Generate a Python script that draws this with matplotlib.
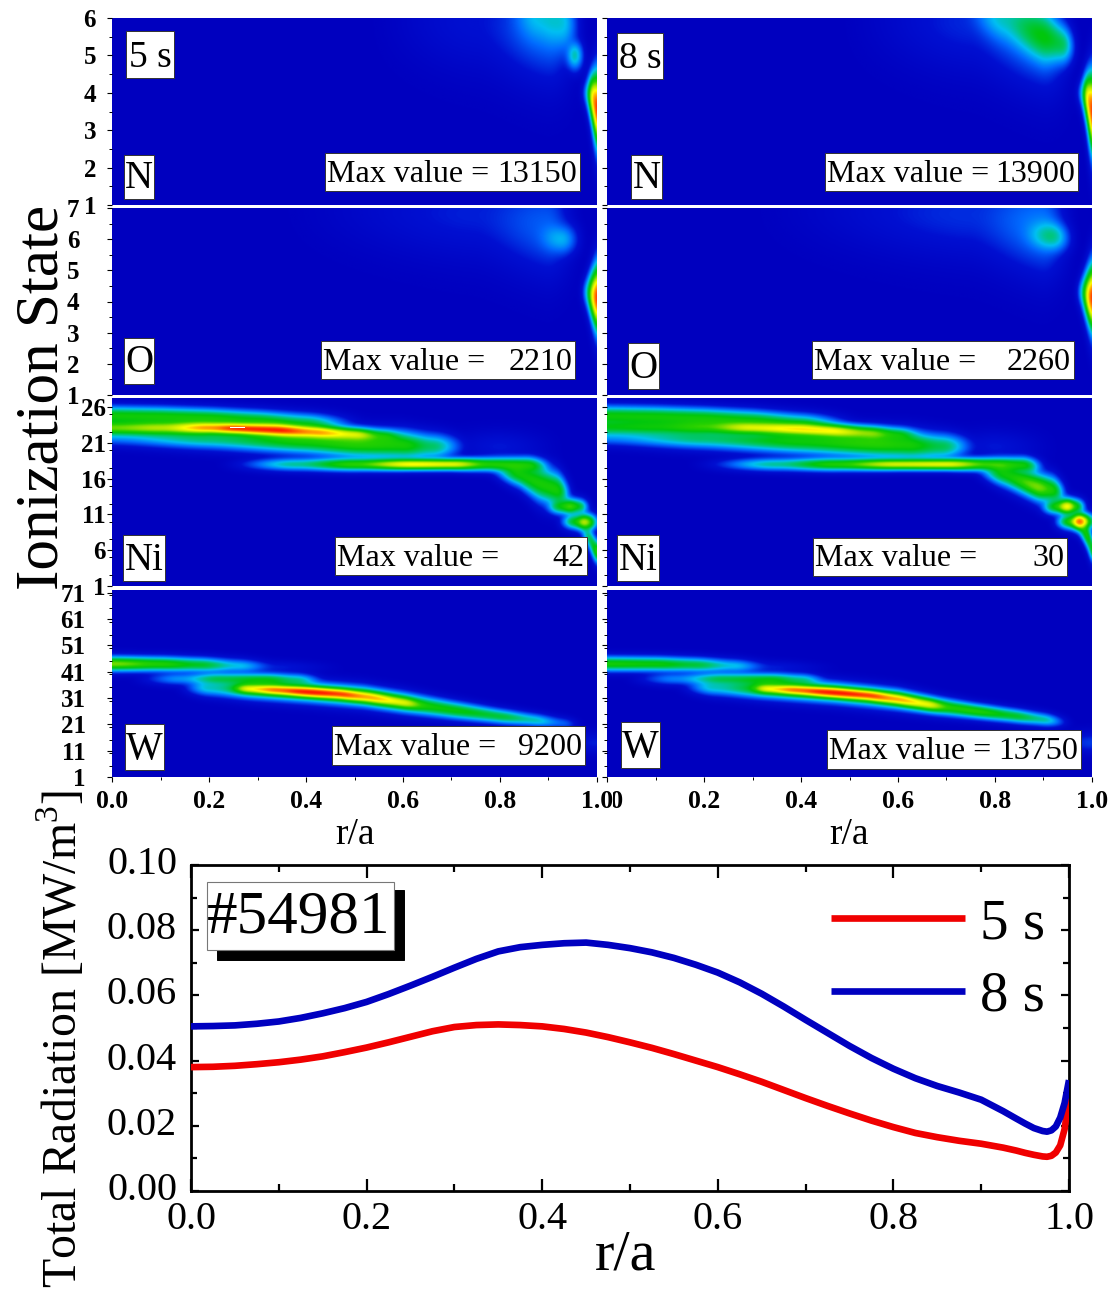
import numpy as np
import matplotlib
matplotlib.use("Agg")
import matplotlib.pyplot as plt
from matplotlib.colors import LinearSegmentedColormap
from matplotlib.patches import Rectangle
from matplotlib.ticker import MultipleLocator, FixedLocator
from matplotlib.transforms import ScaledTranslation

plt.rcParams['font.family'] = ['Liberation Serif', 'DejaVu Serif']
plt.rcParams['mathtext.fontset'] = 'custom'
plt.rcParams['mathtext.rm'] = 'Liberation Serif'

W_PX, H_PX = 1115, 1292

# ---- emissivity ridges: (r knots, state centre, state width, level 0..1)
N_5 = [
    ([.965,.98,.99,1.0], [4.0,4.0,3.9,3.5], [.15,.3,.5,.8], [0,.3,.88,1.0]),
    ([.925,.955,.985], [5,5,5], [.3,.32,.3], [0,.42,0]),
    ([.78,.88,.93,.985], [6.2,6.1,5.9,5.7], [.6,.7,.7,.5], [0,.32,.35,0]),
    ([.50,.75,.9,.98], [6,5.9,5.7,5.4], [.8,1.0,1.1,1.0], [0,.12,.24,0]),
]
N_8 = [
    ([.965,.98,.99,1.0], [4.0,4.0,3.9,3.4], [.15,.3,.5,.85], [0,.3,.88,1.0]),
    ([.70,.82,.90,.94,.98], [6.3,6.0,5.5,5.3,5.2], [.4,.6,.6,.45,.3], [0,.36,.5,.46,0]),
    ([.45,.75,.9,.98], [6,5.9,5.6,5.2], [.8,1.0,1.1,1.0], [0,.15,.28,0]),
]
O_5 = [
    ([.965,.98,.99,1.0], [4.3,4.3,4.2,4.1], [.2,.4,.6,.85], [0,.35,.78,1.0]),
    ([.84,.93,.985], [6.1,6.0,6.0], [.45,.42,.35], [0,.32,0]),
    ([.30,.75,.9,.98], [7,6.8,6.4,6.2], [.8,1.1,1.2,1.0], [0,.14,.22,0]),
]
O_8 = [
    ([.965,.98,.99,1.0], [4.3,4.3,4.2,4.1], [.2,.4,.6,.85], [0,.35,.78,1.0]),
    ([.82,.92,.98], [6.2,6.1,6.0], [.45,.42,.35], [0,.41,0]),
    ([.25,.75,.9,.98], [7,6.8,6.4,6.2], [.8,1.1,1.2,1.0], [0,.16,.26,0]),
]
NI_5 = [
    ([0,.1,.2,.3,.4,.55], [24.8,24.7,24.5,24.2,23.8,23.2], [1.0,1.0,1.0,1.0,1.0,1.0], [.56,.56,.56,.53,.47,0]),
    ([0,.1,.2,.26,.34,.42,.5,.56,.64], [23.1,23.1,23.1,23.0,22.8,22.5,22.2,22.0,21.6], [.9,.9,.75,.7,.8,.8,.75,.75,.8], [.66,.72,.9,1.0,1.0,.88,.74,.5,0]),
    ([0,.2,.4,.5,.6,.66,.76], [21.8,21.6,21.2,20.9,20.7,20.5,20.5], [.9,1.1,1.3,1.45,1.5,1.4,1.1], [.28,.44,.56,.6,.57,.45,0]),
    ([.65,.8,.95], [20.7,20.5,20.3], [1.6,1.6,1.6], [0,.13,0]),
    ([.2,.38,.5,.62,.7,.78,.86,.93], [18,18,18,18,18,18,17.9,17.4], [.6,.7,.7,.62,.62,.75,.9,.9], [0,.42,.62,.83,.8,.6,.56,0]),
    ([.76,.84,.88,.92,.96], [17.6,16.6,15.4,14.4,13.2], [.7,1.3,1.9,1.9,1.1], [0,.55,.57,.57,0]),
    ([.88,.925,.945,.965,.995], [12,12.1,12.1,12.1,12], [.7,.85,.9,.85,.7], [0,.52,.65,.52,0]),
    ([.91,.955,.975,.99,1.0], [10,10,9.9,9.9,9.9], [.7,.85,.95,.9,.85], [0,.54,.76,.6,.25]),
    ([.96,.985,.995,1.0], [9,7.8,6.3,5.6], [.6,1.1,1.2,1.2], [0,.52,.64,.64]),
]
NI_8 = [
    ([0,.1,.2,.3,.4,.55], [24.8,24.7,24.5,24.2,23.8,23.2], [1.05,1.05,1.05,1.05,1.0,1.0], [.55,.55,.55,.53,.47,0]),
    ([0,.1,.2,.3,.4,.46,.54,.6,.68], [23.2,23.2,23.2,23.1,22.9,22.7,22.4,22.2,21.8], [1,1,.9,.75,.8,.8,.8,.8,.8], [.52,.54,.6,.76,.81,.8,.66,.5,0]),
    ([0,.2,.4,.55,.62,.69,.79], [21.8,21.6,21.2,20.9,20.7,20.5,20.5], [.9,1.1,1.3,1.45,1.5,1.4,1.1], [.28,.44,.55,.6,.57,.47,0]),
    ([.68,.8,.95], [20.7,20.5,20.3], [1.6,1.6,1.6], [0,.13,0]),
    ([.15,.35,.47,.6,.7,.79,.86,.92], [18,18,18,18,18,18,17.9,17.4], [.6,.7,.7,.62,.62,.75,.9,.9], [0,.42,.6,.78,.8,.62,.56,0]),
    ([.74,.82,.89,.92,.96], [17.6,16.6,14.8,14.4,13.5], [.7,1.3,1.5,1.5,1.0], [0,.55,.67,.58,0]),
    ([.88,.925,.95,.97,.998], [12,12.1,12.1,12.1,12], [.7,.85,.9,.85,.7], [0,.56,.84,.56,0]),
    ([.91,.955,.975,.99,1.0], [10,10,10,10,10], [.7,.85,.95,.9,.85], [0,.6,1.0,.74,.4]),
    ([.96,.985,.995,1.0], [10,8.6,7.6,5.8], [.6,1.1,1.2,1.2], [0,.55,.78,.6]),
]
W_5 = [
    ([0,.1,.18,.26,.34,.5], [44,43.9,43.6,43.2,42.8,42.4], [2.1,2.1,2.1,2.0,1.7,1.4], [.68,.6,.52,.36,.14,0]),
    ([.02,.14,.22,.32,.38,.46], [38.3,38.3,38.2,38,37.8,37.5], [1.6,1.8,1.9,1.9,1.9,1.6], [0,.3,.48,.52,.42,0]),
    ([.22,.28,.34,.41,.47,.53,.6,.68], [34.8,34.5,34.0,33.2,32.5,31.3,29.3,27.2], [1.5,1.6,1.7,1.7,1.8,2.0,2.0,1.8], [0,.72,.88,1.0,.92,.8,.66,0]),
    ([.12,.2,.3,.41,.52,.6,.7,.8,.87,.93,.98], [35.2,34.8,34.4,33.2,31.5,29.3,26.5,24.0,22.6,21.4,20.5], [1.8,2.4,2.9,3.0,3.0,2.9,2.5,2.1,1.9,1.7,1.4], [0,.38,.56,.58,.58,.58,.55,.5,.4,.24,0]),
    ([.9,1.0], [14,14], [3,3], [0,.14]),
]
W_8 = [
    ([0,.1,.18,.26,.34,.5], [44,43.9,43.6,43.2,42.8,42.4], [2.1,2.1,2.1,2.0,1.7,1.4], [.58,.56,.5,.36,.14,0]),
    ([.02,.14,.24,.34,.4,.48], [38.3,38.3,38.2,38,37.8,37.5], [1.6,1.8,1.9,1.9,1.9,1.6], [0,.28,.48,.52,.42,0]),
    ([.27,.33,.39,.47,.54,.6,.66,.74], [34.9,34.5,34.0,33,32.0,30.5,28.6,26.6], [1.5,1.6,1.7,1.7,1.8,2.0,2.0,1.8], [0,.72,.88,1.0,.92,.8,.68,0]),
    ([.13,.22,.34,.47,.6,.68,.76,.84,.9,.97], [35.5,35,34.5,33,30.5,28,26,24.2,22.8,21.2], [1.8,2.4,2.9,3.0,2.9,2.5,2.1,2.0,1.9,1.5], [0,.38,.56,.58,.58,.58,.6,.52,.42,0]),
    ([.9,1.0], [14,14], [3,3], [0,.18]),
]

YLIMS = [(1, 6), (1, 7), (1, 27.25), (1, 72)]
YTICKS = [[1, 2, 3, 4, 5, 6], [1, 2, 3, 4, 5, 6, 7],
          [1, 6, 11, 16, 21, 26], [1, 11, 21, 31, 41, 51, 61, 71]]
YMINOR = [.5, .5, 2.5, 5]
YPADS = [8, 20, 1, 15.5]
ELEMENTS = ['N', 'O', 'Ni', 'W']
MAX_5 = ['13150', '2210', '42', '9200']
MAX_8 = ['13900', '2260', '30', '13750']
RIDGES_5 = [N_5, O_5, NI_5, W_5]
RIDGES_8 = [N_8, O_8, NI_8, W_8]

# ---- total radiation profiles
R_A = [0,.025,.05,.075,.1,.125,.15,.175,.2,.225,.25,.275,.3,.325,.35,.375,.4,.425,.45,.475,.5,.525,.55,.575,
       .6,.625,.65,.675,.7,.725,.75,.775,.8,.825,.85,.875,.9,.925,.94,.95,.96,.97,.975,.98,.985,.99,.995,1.0]
RAD_5S = [.0380,.0381,.0384,.0389,.0395,.0403,.0413,.0426,.0440,.0456,.0473,.0490,.0503,.0509,.0511,.0509,
          .0505,.0497,.0486,.0472,.0456,.0439,.0420,.0400,.0380,.0358,.0335,.0310,.0285,.0261,.0238,.0216,
          .0196,.0178,.0165,.0154,.0145,.0133,.0124,.0117,.0111,.0106,.0105,.0108,.0118,.0140,.0190,.0290]
RAD_8S = [.0505,.0506,.0508,.0513,.0520,.0531,.0545,.0561,.0580,.0604,.0630,.0657,.0685,.0712,.0735,.0748,
          .0755,.0760,.0762,.0755,.0745,.0732,.0715,.0694,.0670,.0640,.0605,.0566,.0525,.0485,.0445,.0408,
          .0375,.0346,.0322,.0302,.0280,.0245,.0222,.0207,.0193,.0184,.0182,.0186,.0198,.0225,.0270,.0340]

# ---- layout in pixels
COL_X = [(112, 597), (607, 1092)]
ROW_Y = [(18, 205), (208, 395), (398, 586), (590, 777)]
MAX_BOX = [[(325, 580, 153, 191), (321, 575, 341, 379), (335, 587, 537, 575), (332, 585, 726, 765)],
           [(825, 1078, 153, 191), (812, 1074, 341, 379), (813, 1067, 538, 576), (827, 1081, 730, 769)]]
EL_BOX = [[(124, 154, 155, 199), (124, 154, 338, 384), (123, 165, 535, 581), (125, 164, 724, 770)],
          [(631, 662, 155, 199), (628, 659, 343, 389), (617, 659, 535, 581), (621, 660, 722, 768)]]
TIME_BOX = [(126, 174, 31, 78), (617, 663, 33, 79)]
TIME_LABEL = ['5 s', '8 s']

CM = LinearSegmentedColormap.from_list('rad', [
    (0.00, (0, 0, .75)), (.12, (0, .06, .82)), (.24, (0, .42, 1)), (.34, (0, .75, .95)),
    (.43, (0, .78, .45)), (.52, (0, .78, .05)), (.60, (.15, .82, 0)), (.70, (.68, .9, 0)),
    (.79, (1, 1, 0)), (.90, (1, .5, 0)), (1.0, (1, 0, 0))])


def smooth_interp(x, xk, yk):
    xk = np.asarray(xk); yk = np.asarray(yk, float)
    i = np.clip(np.searchsorted(xk, x) - 1, 0, len(xk) - 2)
    t = np.clip((x - xk[i]) / (xk[i + 1] - xk[i]), 0, 1)
    t = t * t * (3 - 2 * t)
    v = yk[i] + (yk[i + 1] - yk[i]) * t
    return np.where((x < xk[0]) | (x > xk[-1]), 0.0, v)


def soften(z, n=4):
    k = np.exp(-np.arange(-3 * n, 3 * n + 1) ** 2 / (2.0 * n * n))
    k /= k.sum()
    for axis in (0, 1):
        pad = [(0, 0), (0, 0)]
        pad[axis] = (3 * n, 3 * n)
        zp = np.pad(z, pad, mode='edge')
        z = np.apply_along_axis(lambda v: np.convolve(v, k, mode='valid'), axis, zp)
    return z


def field(ridges, ylim):
    r = np.linspace(0, 1, 700)
    s = np.linspace(ylim[0], ylim[1], 500)
    R, S = np.meshgrid(r, s)
    total = np.zeros_like(R)
    for rk, ck, wk, ak in ridges:
        c = np.interp(r, rk, ck)
        w = np.interp(r, rk, wk)
        a = smooth_interp(r, rk, ak)
        total += (a * np.exp(-(S - c) ** 2 / (2 * w ** 2))) ** 3
    return soften(np.clip(total ** (1 / 3), 0, 1))


fig = plt.figure(figsize=(W_PX / 100, H_PX / 100), dpi=100, facecolor='white')


def ax_px(x0, x1, y0, y1):
    return fig.add_axes([x0 / W_PX, 1 - y1 / H_PX, (x1 - x0) / W_PX, (y1 - y0) / H_PX])


def fx(x):
    return x / W_PX


def fy(y):
    return 1 - y / H_PX


def box(x0, x1, y0, y1, fc='white', ec='#333333', lw=0.7, z=5):
    fig.add_artist(Rectangle((fx(x0), fy(y1)), (x1 - x0) / W_PX, (y1 - y0) / H_PX,
                             transform=fig.transFigure, fc=fc, ec=ec, lw=lw, zorder=z))


for col, (ridges_col, maxes) in enumerate([(RIDGES_5, MAX_5), (RIDGES_8, MAX_8)]):
    for row in range(4):
        ax = ax_px(*COL_X[col], *ROW_Y[row])
        yl = YLIMS[row]
        ax.imshow(field(ridges_col[row], yl), origin='lower', aspect='auto', cmap=CM,
                  vmin=0, vmax=1, extent=[0, 1, yl[0], yl[1]], interpolation='bilinear')
        ax.set_xlim(0, 1); ax.set_ylim(*yl)
        for sp in ax.spines.values():
            sp.set_visible(False)
        ax.yaxis.set_major_locator(FixedLocator(YTICKS[row]))
        ax.yaxis.set_minor_locator(MultipleLocator(YMINOR[row]))
        ax.tick_params(axis='y', which='major', length=3.5, width=0.8, pad=YPADS[row], labelsize=18,
                       labelleft=(col == 0))
        ax.tick_params(axis='y', which='minor', length=2, width=0.7)
        ax.xaxis.set_major_locator(MultipleLocator(.2))
        ax.xaxis.set_minor_locator(MultipleLocator(.1))
        if row == 3:
            ax.tick_params(axis='x', which='major', length=3.5, width=0.8, pad=6, labelsize=18.5)
            ax.tick_params(axis='x', which='minor', length=2, width=0.7)
            ax.set_xticks(np.arange(0, 1.01, .2))
            ax.set_xticklabels([f'{v:.1f}' for v in np.arange(0, 1.01, .2)])
            if col == 0:
                # as in the reference, the left panel's 1.0 sits over the right panel's 0.0
                ax.set_zorder(2)
                ax.get_xticklabels()[-1].set_bbox(dict(fc='white', ec='none', pad=0))
        else:
            ax.tick_params(axis='x', which='both', bottom=False, labelbottom=False)
        for lab in ax.get_xticklabels() + ax.get_yticklabels():
            lab.set_fontweight('bold')

        x0, x1, y0, y1 = MAX_BOX[col][row]
        box(x0, x1, y0, y1)
        fig.text(fx(x0 + 2), fy((y0 + y1) / 2 + 2), 'Max value =', fontsize=23, ha='left', va='center', zorder=6)
        fig.text(fx(x1 - 3), fy((y0 + y1) / 2 + 2), maxes[row], fontsize=23, ha='right', va='center', zorder=6)

        x0, x1, y0, y1 = EL_BOX[col][row]
        box(x0, x1, y0, y1)
        fig.text(fx((x0 + x1) / 2), fy((y0 + y1) / 2 + 2), ELEMENTS[row], fontsize=28, ha='center', va='center', zorder=6)

    x0, x1, y0, y1 = TIME_BOX[col]
    box(x0, x1, y0, y1)
    fig.text(fx((x0 + x1) / 2), fy((y0 + y1) / 2 + 3), TIME_LABEL[col], fontsize=27, ha='center', va='center', zorder=6)

# hottest-cell marker in the Ni 5 s panel
fig.add_artist(Rectangle((fx(230), fy(428.5)), 15 / W_PX, 1.5 / H_PX, transform=fig.transFigure,
                         fc='white', ec='none', zorder=4))

fig.text(fx(355), fy(835), 'r/a', fontsize=27, ha='center', va='center')
fig.text(fx(849), fy(835), 'r/a', fontsize=27, ha='center', va='center')
fig.text(fx(43), fy(397), 'Ionization State', fontsize=44, rotation=90, ha='center', va='center')

# ---- bottom panel
ax = ax_px(191, 1069, 865, 1191)
l5, = ax.plot(R_A, RAD_5S, color='#f00000', lw=4.8, solid_capstyle='butt', label='5 s', zorder=3)
l8, = ax.plot(R_A, RAD_8S, color='#0000c0', lw=4.8, solid_capstyle='butt', label='8 s', zorder=4)
ax.set_xlim(0, 1); ax.set_ylim(0, .1)
for sp in ax.spines.values():
    sp.set_linewidth(2.0)
ax.xaxis.set_major_locator(MultipleLocator(.2))
ax.xaxis.set_minor_locator(MultipleLocator(.1))
ax.yaxis.set_major_locator(MultipleLocator(.02))
ax.yaxis.set_minor_locator(MultipleLocator(.01))
ax.tick_params(axis='x', which='major', direction='in', top=True, length=9, width=1.6, labelsize=29, pad=7)
ax.tick_params(axis='x', which='minor', direction='in', top=True, length=5, width=1.6)
ax.tick_params(axis='y', which='major', direction='in', right=True, length=6, width=1.6, labelsize=29, pad=10)
ax.tick_params(axis='y', which='minor', direction='in', right=True, length=4, width=1.6)
ax.xaxis.set_major_formatter(lambda v, p: f'{v:.1f}')
ax.yaxis.set_major_formatter(lambda v, p: f'{v:.2f}')
up = ScaledTranslation(0, 5 / 100, fig.dpi_scale_trans)
for lab in ax.get_yticklabels():
    lab.set_transform(lab.get_transform() + up)
ax.legend(handles=[l5, l8], loc='upper right', bbox_to_anchor=(1.008, 0.994), frameon=False, fontsize=41,
          handlelength=2.35, handletextpad=0.26, labelspacing=0.36, borderaxespad=0.35, borderpad=0.2)
fig.text(fx(626), fy(1255), 'r/a', fontsize=42, ha='center', va='center')
fig.text(fx(61), fy(1039), 'Total Radiation [MW/m$^{3}$]', fontsize=34.5, rotation=90, ha='center', va='center')

box(217, 404, 890, 960, fc='black', ec='black', z=6)
box(207, 394, 882, 950, fc='white', ec='#777777', lw=0.8, z=7)
fig.text(fx(299), fy(918), '#54981', fontsize=44, ha='center', va='center', zorder=8)

fig.savefig('out.png', dpi=100)
